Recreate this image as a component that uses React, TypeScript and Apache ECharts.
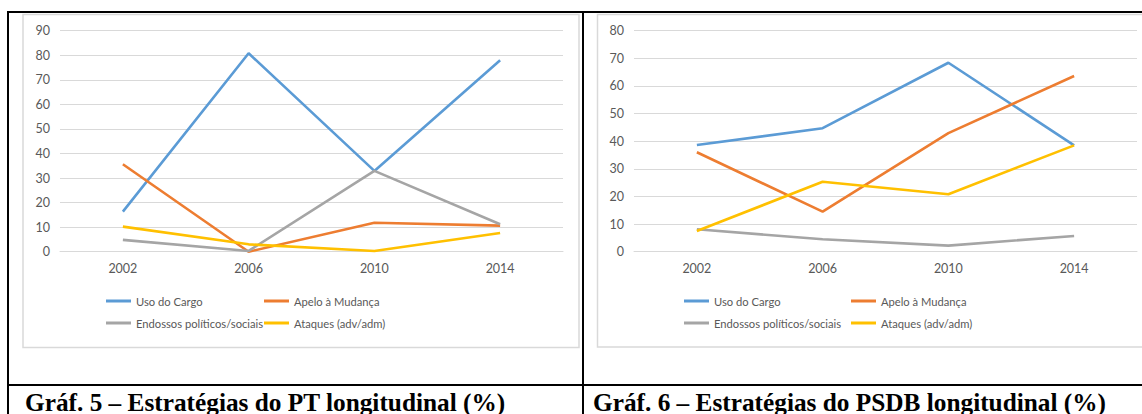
import React, { useEffect, useRef } from "react";
import * as echarts from "echarts";

const years = ["2002", "2006", "2010", "2014"];
const seriesNames = ["Uso do Cargo", "Apelo à Mudança", "Endossos políticos/sociais", "Ataques (adv/adm)"];
const colors = ["#5B9BD5", "#ED7D31", "#A5A5A5", "#FFC000"];

const ptUso = [16.3, 80.8, 32.9, 78.0];
const ptApelo = [35.6, 0, 11.8, 10.6];
const ptEndossos = [4.8, 0.3, 32.9, 11.2];
const ptAtaques = [10.2, 3.0, 0.3, 7.6];

const psdbUso = [38.6, 44.7, 68.4, 38.5];
const psdbApelo = [36.0, 14.5, 42.9, 63.6];
const psdbEndossos = [8.1, 4.5, 2.2, 5.7];
const psdbAtaques = [7.5, 25.3, 20.8, 38.5];

const ptMax = 90;
const psdbMax = 80;
const yInterval = 10;

const captions = [
  "Gráf. 5 – Estratégias do PT longitudinal (%)",
  "Gráf. 6 – Estratégias do PSDB longitudinal (%)",
];

const labelColor = "#595959";
const gridColor = "#d9d9d9";
const sansFont = "Lato, 'Open Sans', sans-serif";

export default function App() {
  const ref = useRef<HTMLDivElement>(null);

  useEffect(() => {
    if (!ref.current) return;
    const chart = echarts.init(ref.current, null, { renderer: "svg" });

    const panels = [
      { left: 60, max: ptMax, data: [ptUso, ptApelo, ptEndossos, ptAtaques], legendX: [106, 264] },
      { left: 634, max: psdbMax, data: [psdbUso, psdbApelo, psdbEndossos, psdbAtaques], legendX: [684, 851] },
    ];

    const grids = panels.map((p) => ({ left: p.left, top: 30.7, width: 503, height: 221 }));
    const xAxes = panels.map((_, i) => ({
      type: "category",
      gridIndex: i,
      data: years,
      boundaryGap: true,
      axisTick: { show: false },
      axisLine: { lineStyle: { color: gridColor, width: 1 } },
      axisLabel: { color: labelColor, fontFamily: sansFont, fontSize: 12.5, margin: 10 },
    }));
    const yAxes = panels.map((p, i) => ({
      type: "value",
      gridIndex: i,
      min: 0,
      max: p.max,
      interval: yInterval,
      axisLine: { show: false },
      axisTick: { show: false },
      splitLine: { lineStyle: { color: gridColor, width: 1 } },
      axisLabel: { color: labelColor, fontFamily: sansFont, fontSize: 12.5, margin: 10 },
    }));
    const series: any[] = [];
    panels.forEach((p, i) => {
      p.data.forEach((d, k) => {
        series.push({
          type: "line",
          name: seriesNames[k],
          xAxisIndex: i,
          yAxisIndex: i,
          data: d,
          symbol: "none",
          color: colors[k],
          lineStyle: { width: 2.6, color: colors[k] },
        });
      });
    });

    const rowTops = [294, 316];
    const legends: any[] = [];
    panels.forEach((p) => {
      seriesNames.forEach((name, k) => {
        legends.push({
          left: p.legendX[k % 2],
          top: rowTops[Math.floor(k / 2)],
          data: [name],
          icon: "rect",
          itemWidth: 25,
          itemHeight: 3,
          padding: 0,
          selectedMode: false,
          textStyle: { color: labelColor, fontFamily: sansFont, fontSize: 11.2, lineHeight: 14 },
        });
      });
    });

    const black = "#000";
    const graphic: any[] = [
      { type: "rect", shape: { x: 23, y: 14.5, width: 556, height: 333 }, style: { fill: "none", stroke: gridColor, lineWidth: 1.5 }, silent: true },
      { type: "rect", shape: { x: 597.5, y: 14.5, width: 560, height: 332.5 }, style: { fill: "none", stroke: gridColor, lineWidth: 1.5 }, silent: true },
      { type: "rect", shape: { x: 7, y: 11, width: 1135, height: 2 }, style: { fill: black }, silent: true },
      { type: "rect", shape: { x: 7, y: 384, width: 1135, height: 2 }, style: { fill: black }, silent: true },
      { type: "rect", shape: { x: 7, y: 11, width: 2, height: 403 }, style: { fill: black }, silent: true },
      { type: "rect", shape: { x: 582, y: 11, width: 2, height: 403 }, style: { fill: black }, silent: true },
      {
        type: "text",
        x: 25,
        y: 401.5,
        style: { text: captions[0], fill: "#000", font: "bold 25.3px 'Liberation Serif', 'Times New Roman', serif", verticalAlign: "middle" },
        silent: true,
      },
      {
        type: "text",
        x: 593,
        y: 401.5,
        style: { text: captions[1], fill: "#000", font: "bold 25.3px 'Liberation Serif', 'Times New Roman', serif", verticalAlign: "middle" },
        silent: true,
      },
    ];

    chart.setOption({
      animation: false,
      backgroundColor: "#fff",
      grid: grids,
      xAxis: xAxes,
      yAxis: yAxes,
      legend: legends,
      series,
      graphic,
    } as any);

    return () => chart.dispose();
  }, []);

  return (
    <div
      ref={ref}
      style={{ position: "fixed", left: 0, top: 0, width: 1142, height: 414, background: "#fff" }}
    />
  );
}
